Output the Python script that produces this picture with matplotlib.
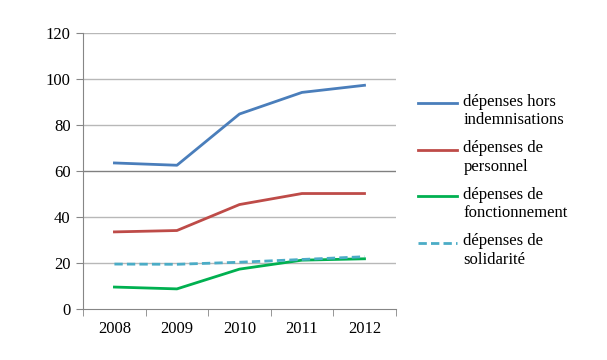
import matplotlib.pyplot as plt
from matplotlib.legend_handler import HandlerLine2D
from matplotlib.ticker import FixedLocator

plt.rcParams["font.family"] = ["Liberation Serif", "DejaVu Serif"]

years = ["2008", "2009", "2010", "2011", "2012"]
hors_indemnisations = [63.5, 62.5, 84.8, 94.2, 97.3]
personnel = [33.5, 34.1, 45.4, 50.2, 50.2]
fonctionnement = [9.5, 8.7, 17.3, 21.2, 21.8]
solidarite = [19.5, 19.4, 20.3, 21.5, 22.7]

labels = [
    "dépenses hors\nindemnisations",
    "dépenses de\npersonnel",
    "dépenses de\nfonctionnement",
    "dépenses de\nsolidarité",
]


# legend line next to the first text line, like Excel does
class TopLine(HandlerLine2D):
    def create_artists(self, legend, orig_handle, xdescent, ydescent,
                       width, height, fontsize, trans):
        return super().create_artists(legend, orig_handle, xdescent,
                                      ydescent - 11.0, width, height,
                                      fontsize, trans)


fig = plt.figure(figsize=(6.07, 3.6), dpi=100)
ax = fig.add_axes([0.137, 0.142, 0.515, 0.766])

x = range(len(years))
ax.plot(x, hors_indemnisations, color="#4a7ebb", lw=2.0, label=labels[0])
ax.plot(x, personnel, color="#be4b48", lw=2.0, label=labels[1])
ax.plot(x, fonctionnement, color="#00b050", lw=2.0, label=labels[2])
ax.plot(x, solidarite, color="#4bacc6", lw=2.0, ls=(0, (3, 1.5)), label=labels[3])

ax.set_xlim(-0.5, 4.5)
ax.set_ylim(0, 120)
ax.set_yticks(range(0, 121, 20))
ax.set_xticks(list(x))
ax.set_xticklabels(years)
ax.xaxis.set_minor_locator(FixedLocator([-0.5, 0.5, 1.5, 2.5, 3.5, 4.5]))
ax.tick_params(axis="x", which="major", length=0, pad=9, labelsize=12)
ax.tick_params(axis="x", which="minor", length=5, color="#868686")
ax.tick_params(axis="y", length=5, color="#868686", labelsize=12, pad=4)

for v in range(20, 121, 20):
    ax.axhline(v, color="#808080" if v == 60 else "#b8b8b8", lw=1.0, zorder=0)

for side in ["top", "right"]:
    ax.spines[side].set_visible(False)
for side in ["left", "bottom"]:
    ax.spines[side].set_color("#868686")

ax.legend(loc="upper left", bbox_to_anchor=(1.024, 0.835), frameon=False,
          handlelength=2.35, handletextpad=0.35, labelspacing=0.73,
          fontsize=12, handler_map={plt.Line2D: TopLine()})

fig.savefig("out.png", dpi=100)
plt.close()
